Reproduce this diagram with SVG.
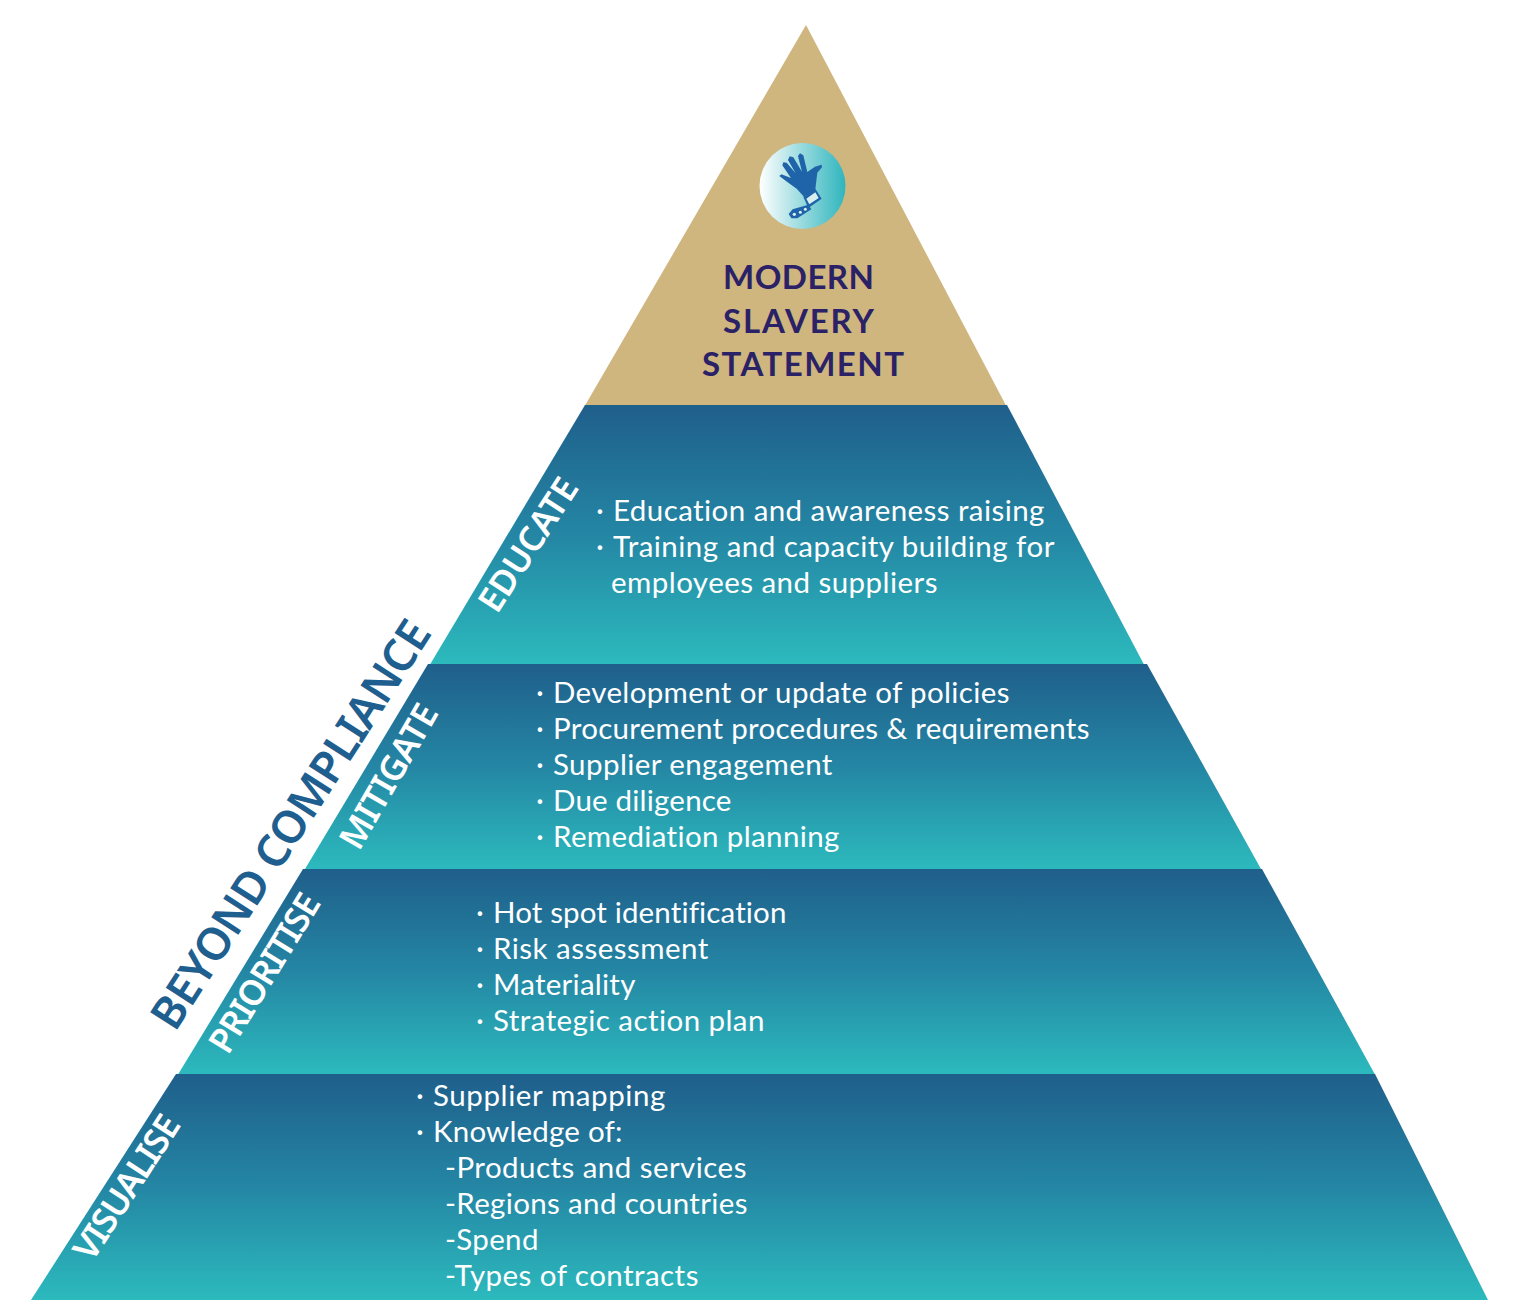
<svg xmlns="http://www.w3.org/2000/svg" width="1522" height="1316" viewBox="0 0 1522 1316">
<style>
text{font-family:"Lato","Noto Sans",sans-serif}
.b{fill:#fff;font-size:29.5px;letter-spacing:.6px}
.d{fill:#fff;font-size:30px;font-weight:400}
.l{fill:#fff;font-size:35px;font-weight:600;font-family:"Noto Sans",sans-serif}
.t{fill:#2a2166;font-size:33px;font-weight:700}
</style>
<defs>
<linearGradient id="g" x1="0" y1="0" x2="0" y2="1"><stop offset="0" stop-color="#1f5f8b"/><stop offset=".5" stop-color="#2486a4"/><stop offset="1" stop-color="#2cbabd"/></linearGradient>
<linearGradient id="c" x1="0" y1="0" x2="1" y2="0"><stop offset="0" stop-color="#ffffff"/><stop offset="1" stop-color="#2fb5bd"/></linearGradient>
</defs>
<rect width="1522" height="1316" fill="#fff"/>
<g id="statement">
<polygon points="806,25 1006,405.500 585,405.500" fill="#cfb57e"/>
<g id="icon">
<circle cx="802.500" cy="186" r="43" fill="url(#c)"/>
<g transform="translate(740 130) scale(.3333)">
<path fill="#1f63a8" d="M118 138 L124 133 L153 144 L127 106 L130 97 L140 98 L167 130 L144 90 L149 79 L160 82 L186 125 L174 78 L180 70 L190 76 L202 126 L225 110 L245 104 L246 112 L232 128 L226 178 L192 200 L170 176 L145 158Z"/>
<path fill="#1f63a8" d="M190 200 L226 176 L245 206 L205 234 L198 218Z"/>
<path fill="#d8f0f0" d="M199 206 L226 187 L236 204 L208 223Z"/>
<path fill="#1f63a8" d="M205 224 L214 238 L172 265 L154 265 L146 252 L158 238Z"/>
<circle cx="196" cy="238" r="4.500" fill="#d8f0f0"/><circle cx="181" cy="247" r="4.500" fill="#d8f0f0"/><circle cx="163" cy="253" r="5" fill="#d8f0f0"/>
</g>
</g>
<text class="t" x="723" y="289" textLength="151">MODERN</text>
<text class="t" x="723" y="333" textLength="151">SLAVERY</text>
<text class="t" x="702" y="376" textLength="202">STATEMENT</text>
</g>
<g id="educate">
<polygon points="585,405 1007,405 1144,664.500 430,664.500" fill="url(#g)"/>
<text class="l" transform="translate(497 615) rotate(-57)" textLength="152">EDUCATE</text>
<text class="d" x="596" y="521">·</text><text class="b" x="613" y="521" textLength="432">Education and awareness raising</text>
<text class="d" x="596" y="557">·</text><text class="b" x="613" y="557" textLength="442">Training and capacity building for</text>
<text class="b" x="611" y="593" textLength="327">employees and suppliers</text>
</g>
<g id="mitigate">
<polygon points="428,664 1147,664 1261,869 305,869" fill="url(#g)"/>
<text class="l" transform="translate(359 852) rotate(-60)" textLength="161">MITIGATE</text>
<text class="d" x="536" y="703">·</text><text class="b" x="553" y="703" textLength="457">Development or update of policies</text>
<text class="d" x="536" y="739">·</text><text class="b" x="553" y="739" textLength="537">Procurement procedures &amp; requirements</text>
<text class="d" x="536" y="775">·</text><text class="b" x="553" y="775" textLength="280">Supplier engagement</text>
<text class="d" x="536" y="811">·</text><text class="b" x="553" y="811" textLength="179">Due diligence</text>
<text class="d" x="536" y="847">·</text><text class="b" x="553" y="847" textLength="287">Remediation planning</text>
</g>
<g id="prioritise">
<polygon points="303,869 1262,869 1375,1074.500 178,1074.500" fill="url(#g)"/>
<text class="l" transform="translate(228 1056) rotate(-58.5)" textLength="180">PRIORITISE</text>
<text class="d" x="476" y="923">·</text><text class="b" x="493" y="923" textLength="294">Hot spot identification</text>
<text class="d" x="476" y="959">·</text><text class="b" x="493" y="959" textLength="216">Risk assessment</text>
<text class="d" x="476" y="995">·</text><text class="b" x="493" y="995" textLength="143">Materiality</text>
<text class="d" x="476" y="1031">·</text><text class="b" x="493" y="1031" textLength="272">Strategic action plan</text>
</g>
<g id="visualise">
<polygon points="176,1074 1375,1074 1488,1300 31,1300" fill="url(#g)"/>
<text class="l" transform="translate(92 1263) rotate(-57)" textLength="165">VISUALISE</text>
<text class="d" x="416" y="1106">·</text><text class="b" x="433" y="1106" textLength="233">Supplier mapping</text>
<text class="d" x="416" y="1142">·</text><text class="b" x="433" y="1142" textLength="190">Knowledge of:</text>
<text class="b" x="445" y="1178" textLength="302">-Products and services</text>
<text class="b" x="445" y="1214" textLength="303">-Regions and countries</text>
<text class="b" x="445" y="1250" textLength="94">-Spend</text>
<text class="b" x="445" y="1286" textLength="254">-Types of contracts</text>
</g>
<g id="beyond-compliance">
<text transform="translate(175 1033) rotate(-57.2)" fill="#1f5f8f" font-size="45" font-weight="600" style="font-family:'Noto Sans',sans-serif" textLength="476">BEYOND COMPLIANCE</text>
</g>
</svg>
